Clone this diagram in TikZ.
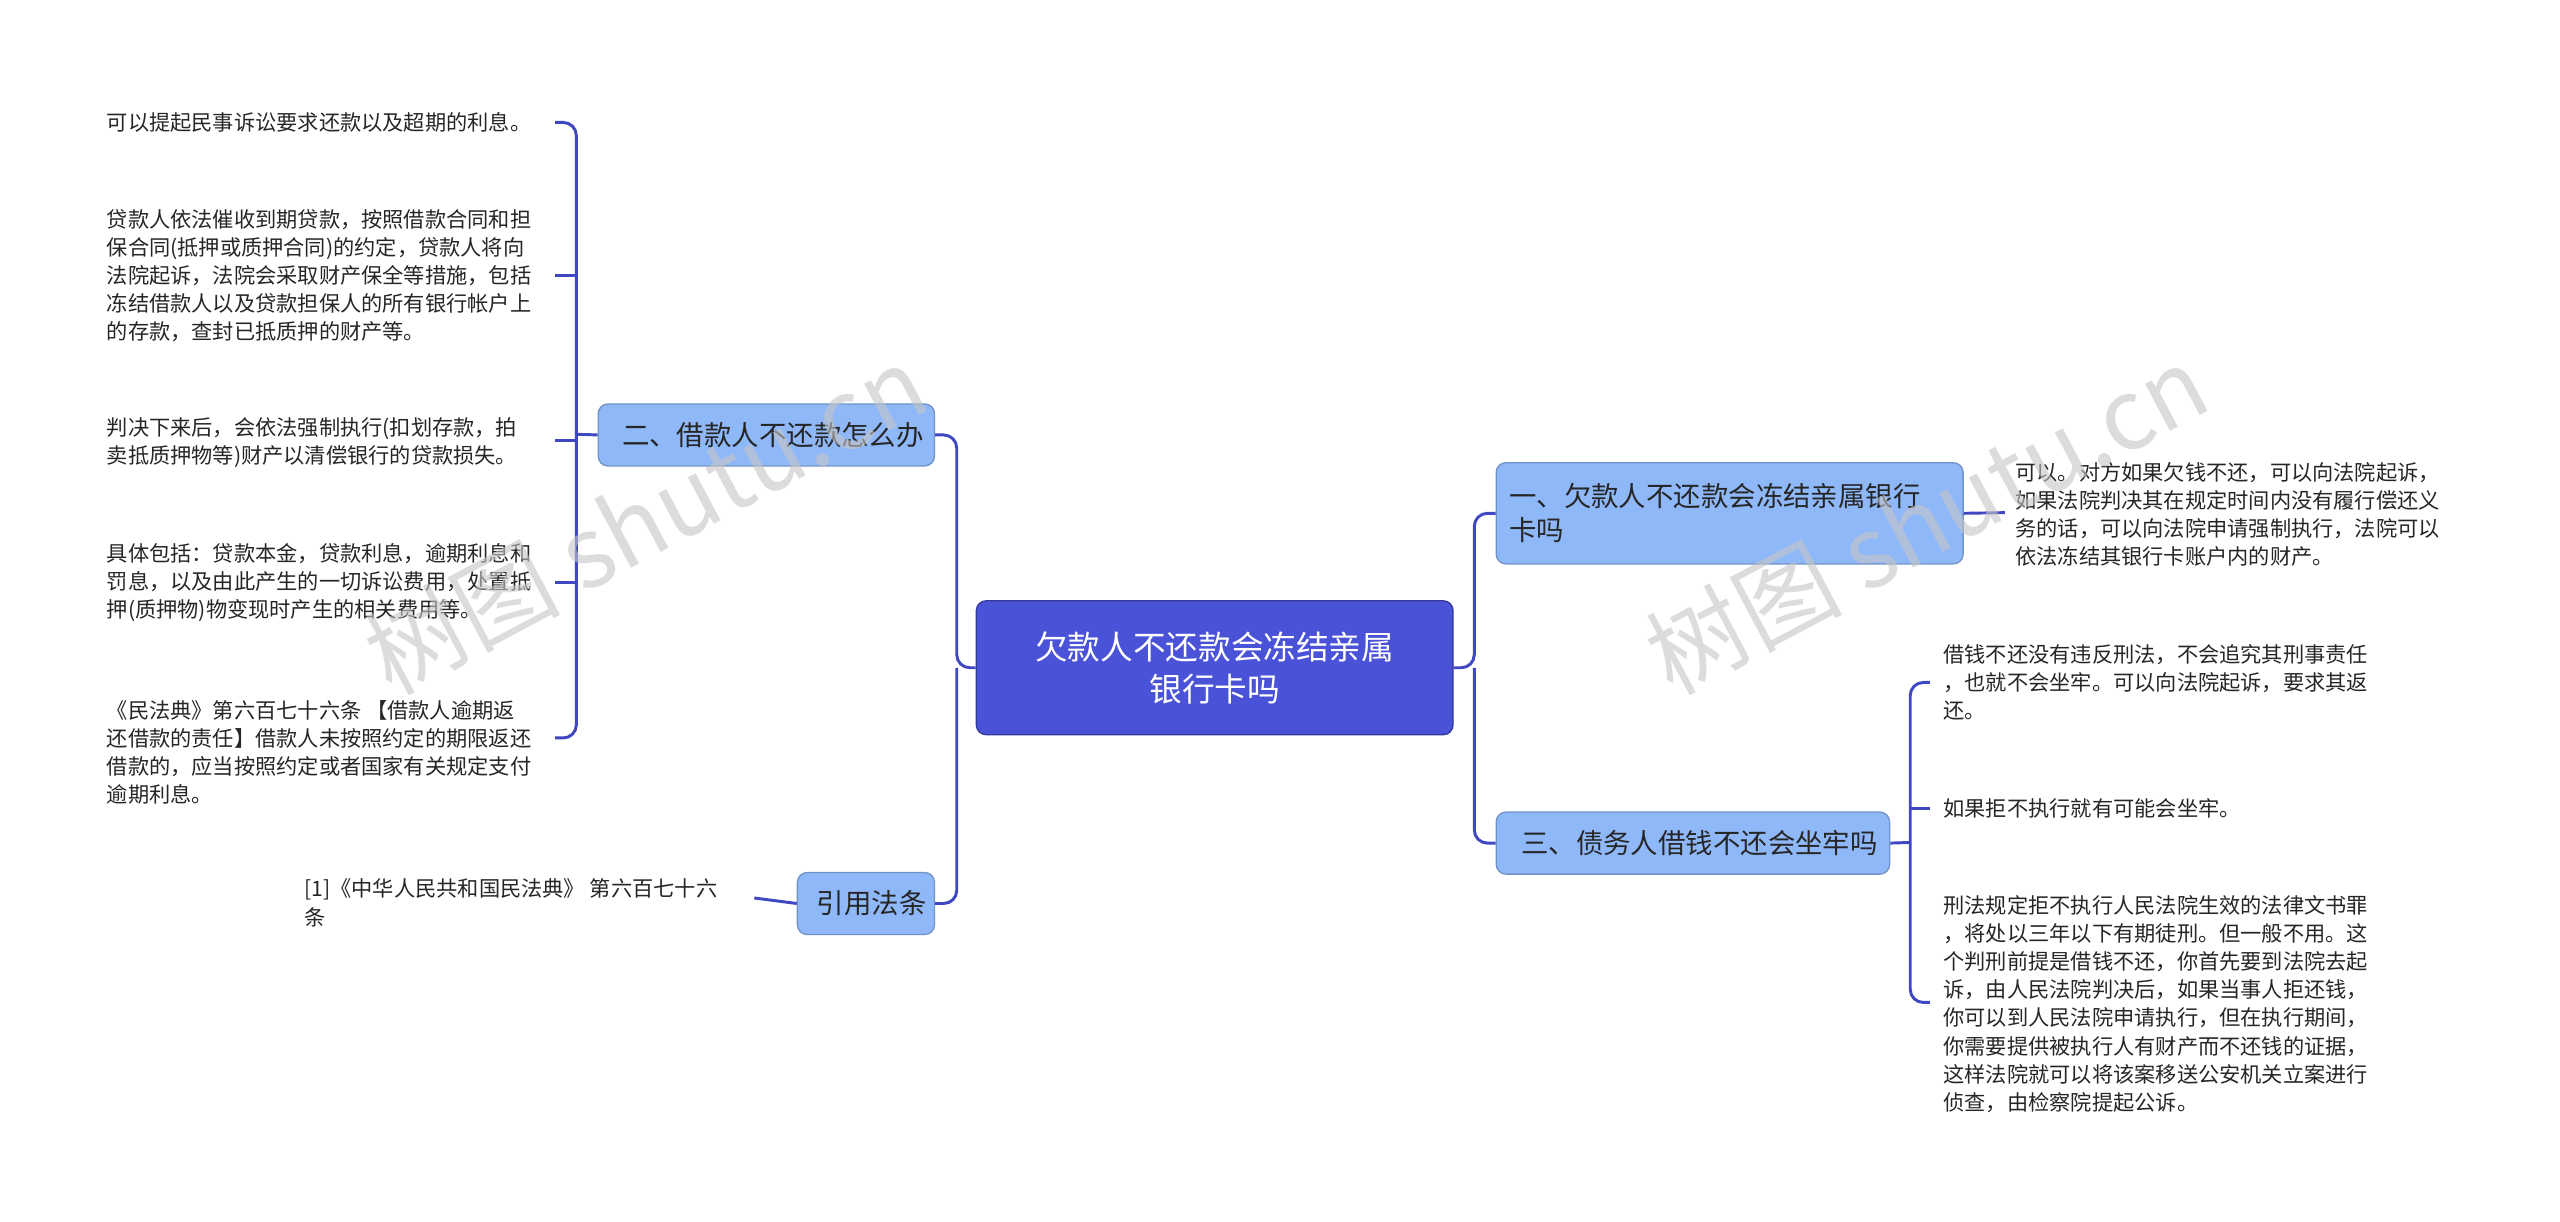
\documentclass[tikz,border=0pt]{standalone}
\usepackage{fontspec}
\setmainfont{Noto Sans CJK SC}
\begin{document}
\begin{tikzpicture}[x=0.5pt,y=-0.5pt,
 ln/.style={draw=lineblue,line width=0.9pt,rounded corners=4pt},
 leaf/.style={align=left,anchor=west,font=\fontsize{6.5pt}{8.6pt}\selectfont,text=black!85,inner sep=0pt},
 sub/.style={draw=subblue!80!black,line width=0.4pt,fill=subblue,rounded corners=3pt,font=\fontsize{8.4pt}{10.5pt}\selectfont,text=black!85,align=left,inner sep=0pt,anchor=north west}]
\definecolor{lineblue}{HTML}{3F48C2}
\definecolor{subblue}{HTML}{8FB8F8}
\definecolor{rootblue}{HTML}{4A52D8}
\useasboundingbox (0,0) rectangle (1568,748);
\fill[white] (0,0) rectangle (1568,748);
% root
\node[draw=rootblue!70!black,fill=rootblue,rounded corners=3pt,minimum width=146pt,minimum height=41pt,inner sep=0pt,text=white,align=center,font=\fontsize{10pt}{12.8pt}\selectfont] (root) at (744,409) {欠款人不还款会冻结亲属\\银行卡吗};
% subs
\node[sub,minimum width=103pt,minimum height=19pt] (s2) at (366,247) {\hspace{4pt}二、借款人不还款怎么办};
\node[sub,minimum width=42pt,minimum height=19pt,align=center] (s4) at (488,534) {\hspace{3.5pt}引用法条};
\node[sub,minimum width=143pt,minimum height=31pt,text width=139pt] (s1) at (916,283) {\hspace{2pt}一、欠款人不还款会冻结亲属银行\\\hspace*{2pt}卡吗};
\node[sub,minimum width=120.5pt,minimum height=19pt] (s3) at (916,497) {\hspace{4pt}三、债务人借钱不还会坐牢吗};
% root connectors
\coordinate (rl) at (586,409); \coordinate (rr) at (903,409);
\draw[ln] (root.west) -- (rl) |- (s2.east);
\draw[ln] (rl) |- (s4.east);
\draw[ln] (root.east) -- (rr) |- (s1.west);
\draw[ln] (rr) |- (s3.west);
% left leaves
\node[leaf] (a1) at (65,75) {可以提起民事诉讼要求还款以及超期的利息。};
\node[leaf] (a2) at (65,169) {贷款人依法催收到期贷款，按照借款合同和担\\保合同(抵押或质押合同)的约定，贷款人将向\\法院起诉，法院会采取财产保全等措施，包括\\冻结借款人以及贷款担保人的所有银行帐户上\\的存款，查封已抵质押的财产等。};
\node[leaf] (a3) at (65,271) {判决下来后，会依法强制执行(扣划存款，拍\\卖抵质押物等)财产以清偿银行的贷款损失。};
\node[leaf] (a4) at (65,357) {具体包括：贷款本金，贷款利息，逾期利息和\\罚息，以及由此产生的一切诉讼费用，处置抵\\押(质押物)物变现时产生的相关费用等。};
\node[leaf] (a5) at (65,461) {《民法典》第六百七十六条 【借款人逾期返\\还借款的责任】借款人未按照约定的期限返还\\借款的，应当按照约定或者国家有关规定支付\\逾期利息。};
\coordinate (bl) at (353,266);
\draw[ln] (s2.west) -- (bl);
\draw[ln] (340,75) -- (353,75) -- (353,452) -- (340,452);
\foreach \y in {169,270,357} \draw[ln] (353,\y) -- (340,\y);
\node[leaf] (c1) at (186,553) {[1]《中华人民共和国民法典》 第六百七十六\\条};
\draw[ln] (s4.west) -- (462,550);
% right leaves
\node[leaf] (r1) at (1234,315) {可以。对方如果欠钱不还，可以向法院起诉，\\如果法院判决其在规定时间内没有履行偿还义\\务的话，可以向法院申请强制执行，法院可以\\依法冻结其银行卡账户内的财产。};
\draw[ln] (s1.east) -- (1228,314);
\node[leaf] (b1) at (1190,418) {借钱不还没有违反刑法，不会追究其刑事责任\\，也就不会坐牢。可以向法院起诉，要求其返\\还。};
\node[leaf] (b2) at (1190,495) {如果拒不执行就有可能会坐牢。};
\node[leaf] (b3) at (1190,615) {刑法规定拒不执行人民法院生效的法律文书罪\\，将处以三年以下有期徒刑。但一般不用。这\\个判刑前提是借钱不还，你首先要到法院去起\\诉，由人民法院判决后，如果当事人拒还钱，\\你可以到人民法院申请执行，但在执行期间，\\你需要提供被执行人有财产而不还钱的证据，\\这样法院就可以将该案移送公安机关立案进行\\侦查，由检察院提起公诉。};
\draw[ln] (s3.east) -- (1170,516);
\draw[ln] (1182,418) -- (1170,418) -- (1170,614) -- (1182,614);
\draw[ln] (1170,495) -- (1182,495);
% watermarks
\node[rotate=28,text=gray!45,opacity=0.6,font=\fontsize{30pt}{30pt}\selectfont] at (395,318) {树图 shutu.cn};
\node[rotate=28,text=gray!45,opacity=0.6,font=\fontsize{30pt}{30pt}\selectfont] at (1180,318) {树图 shutu.cn};
\end{tikzpicture}
\end{document}
